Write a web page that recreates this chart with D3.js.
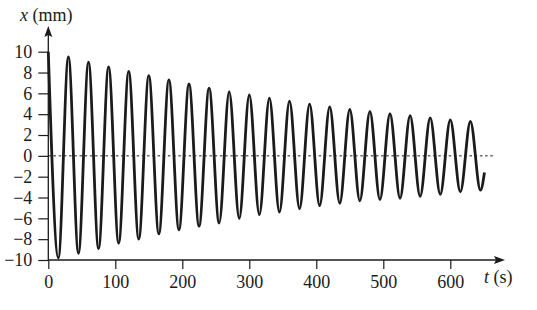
<!DOCTYPE html>
<html>
<head>
<meta charset="utf-8">
<script src="https://cdn.jsdelivr.net/npm/d3@7"></script>
<style>
  body { margin: 0; background: #fff; }
  svg text { font-family: "Liberation Serif", "DejaVu Serif", serif; fill: #1b1b1b; }
</style>
</head>
<body>
<svg width="537" height="310"></svg>
<script>
// extrema of the trace (t in s, x in mm)
var peakT = [0, 30, 60, 90, 120, 150, 180, 210, 240, 270, 300, 330, 360, 390, 420, 450, 480, 510, 540, 570, 600, 630];
var peakX = [10, 9.5, 9.0, 8.55, 8.1, 7.7, 7.3, 6.9, 6.5, 6.15, 5.85, 5.55, 5.26, 4.97, 4.7, 4.45, 4.26, 4.04, 3.86, 3.65, 3.46, 3.3];
var troughT = [15, 45, 75, 105, 135, 165, 195, 225, 255, 285, 315, 345, 375, 405, 435, 465, 495, 525, 555, 585, 615, 645];
var troughX = [-9.8, -9.35, -8.9, -8.4, -8.0, -7.5, -7.1, -6.75, -6.45, -6.0, -5.65, -5.4, -5.07, -4.78, -4.55, -4.33, -4.2, -4.07, -3.9, -3.7, -3.46, -3.3];
var endT = 651, endX = -1.6;

var xTicks = [0, 100, 200, 300, 400, 500, 600];
var yTicks = [-10, -8, -6, -4, -2, 0, 2, 4, 6, 8, 10];

var svg = d3.select("svg");

var xScale = d3.scaleLinear().domain([0, 600]).range([48.3, 450.3]);
var yScale = d3.scaleLinear().domain([-10, 10]).range([260, 51.7]);

// merge extrema in time order
var trace = [];
peakT.forEach(function(t, i) {
  trace.push({t: t, x: peakX[i]});
  trace.push({t: troughT[i], x: troughX[i]});
});
trace.push({t: endT, x: endX});

var ink = "#1b1b1b";

// zero line
svg.append("line")
  .attr("x1", xScale(0)).attr("x2", 493)
  .attr("y1", yScale(0)).attr("y2", yScale(0))
  .attr("stroke", ink).attr("stroke-width", 1)
  .attr("stroke-dasharray", "2.5,2.7");

// axes
var xAxis = d3.axisBottom(xScale).tickValues(xTicks).tickSize(9).tickPadding(6)
  .tickFormat(d3.format("d"));
var gx = svg.append("g")
  .attr("transform", "translate(0," + yScale(-10) + ")")
  .call(xAxis);
gx.select(".domain").remove();
gx.selectAll("line").attr("stroke", ink).attr("stroke-width", 1.2);
gx.selectAll("text").attr("font-size", 18).attr("fill", ink);

var yAxis = d3.axisLeft(yScale).tickValues(yTicks).tickSize(10).tickPadding(6)
  .tickFormat(function(d) { return d < 0 ? "\u2212" + (-d) : d; });
var gy = svg.append("g")
  .attr("transform", "translate(" + xScale(0) + ",0)")
  .call(yAxis);
gy.select(".domain").remove();
gy.selectAll("line").attr("stroke", ink).attr("stroke-width", 1.2);
gy.selectAll("text").attr("font-size", 18).attr("fill", ink);

// axis lines with arrows
svg.append("line")
  .attr("x1", xScale(0)).attr("x2", 497)
  .attr("y1", yScale(-10)).attr("y2", yScale(-10))
  .attr("stroke", ink).attr("stroke-width", 1.3);
svg.append("path")
  .attr("d", "M505," + yScale(-10) + " L494," + (yScale(-10) - 4) + " L496," + yScale(-10) + " L494," + (yScale(-10) + 4) + "Z")
  .attr("fill", ink);
svg.append("line")
  .attr("x1", xScale(0)).attr("x2", xScale(0))
  .attr("y1", yScale(-10)).attr("y2", 34)
  .attr("stroke", ink).attr("stroke-width", 1.3);
svg.append("path")
  .attr("d", "M" + xScale(0) + ",26 L" + (xScale(0) - 4) + ",37 L" + xScale(0) + ",35 L" + (xScale(0) + 4) + ",37Z")
  .attr("fill", ink);

// axis titles
var yt = svg.append("text").attr("x", 20).attr("y", 21).attr("font-size", 18);
yt.append("tspan").attr("font-style", "italic").text("x");
yt.append("tspan").text(" (mm)");
var xt = svg.append("text").attr("x", 484).attr("y", 283).attr("font-size", 18);
xt.append("tspan").attr("font-style", "italic").text("t");
xt.append("tspan").text(" (s)");

// trace
var line = d3.line()
  .x(function(d) { return xScale(d.t); })
  .y(function(d) { return yScale(d.x); })
  .curve(d3.curveMonotoneX);
svg.append("path")
  .datum(trace)
  .attr("d", line)
  .attr("fill", "none")
  .attr("stroke", ink)
  .attr("stroke-width", 2.8)
  .attr("stroke-linejoin", "round");
</script>
</body>
</html>
